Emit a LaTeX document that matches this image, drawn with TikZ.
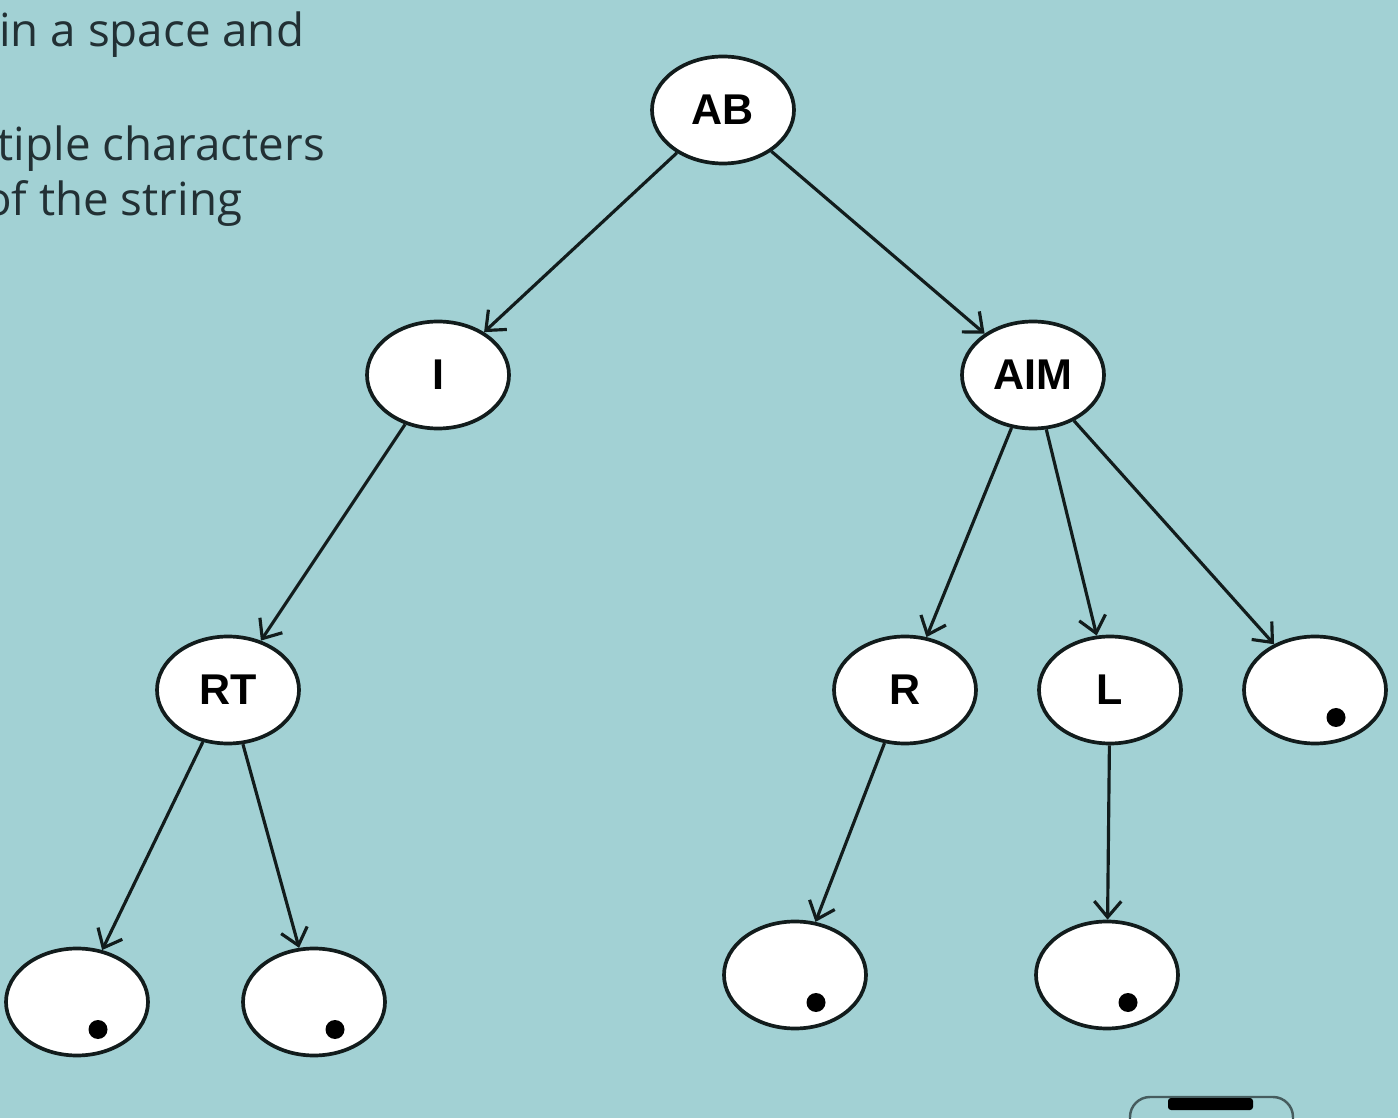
\documentclass[tikz,border=0pt]{standalone}
\usepackage{fontspec}
\usepackage{xcolor}
\usepackage{tikz}
\usetikzlibrary{shapes.geometric,arrows.meta}
\setsansfont{Liberation Sans}
\newfontfamily\notefont{Open Sans}
\definecolor{slidecyan}{RGB}{162, 209, 212}
\definecolor{notegray}{RGB}{34, 48, 52}
\definecolor{edgeblack}{RGB}{18, 28, 28}
\definecolor{framegray}{RGB}{70, 92, 94}

\begin{document}
\begin{tikzpicture}[
        trienode/.style={ellipse, draw=edgeblack, line width=2.1pt, fill=white, minimum width=2.84cm, minimum height=2.14cm, inner sep=0pt, font=\sffamily\bfseries\fontsize{24.5}{28}\selectfont},
        endnode/.style={trienode, path picture={\fill[black] (path picture bounding box.center) ++(0.42,-0.55) circle (0.19);}},
        link/.style={-{Straight Barb[length=3.2mm,width=5.4mm]}, line width=1.8pt, draw=edgeblack},
        note/.style={anchor=base west, inner sep=0pt, text=notegray, font=\notefont\fontsize{26}{30}\selectfont}
    ]
    \fill[slidecyan] (0,0) rectangle (27.96,22.36);
    \useasboundingbox (0,0) rectangle (27.96,22.36);

    % Slide text (cut at the left edge)
    \node[note] (line1) at (-0.02, 21.42) {in a space and};
    \node[note] (line2) at (-0.05, 19.14) {tiple characters};
    \node[note] (line3) at (-0.32, 18.04) {of the string};

    % Trie nodes
    \node[trienode] (ab) at (14.46, 20.16) {AB};
    \node[trienode] (i) at (8.76, 14.86) {I};
    \node[trienode] (aim) at (20.66, 14.86) {AIM};
    \node[trienode] (rt) at (4.56, 8.56) {RT};
    \node[trienode] (r) at (18.10, 8.56) {R};
    \node[trienode] (l) at (22.20, 8.56) {L};
    \node[endnode] (aimend) at (26.30, 8.56) {};
    \node[endnode] (rtend1) at (1.54, 2.32) {};
    \node[endnode] (rtend2) at (6.28, 2.32) {};
    \node[endnode] (rend) at (15.90, 2.86) {};
    \node[endnode] (lend) at (22.14, 2.86) {};

    % Links
    \draw[link] (ab) -- (i);
    \draw[link] (ab) -- (aim);
    \draw[link] (i) -- (rt);
    \draw[link] (aim) -- (r);
    \draw[link] (aim) -- (l);
    \draw[link] (aim) -- (aimend);
    \draw[link] (rt) -- (rtend1);
    \draw[link] (rt) -- (rtend2);
    \draw[link] (r) -- (rend);
    \draw[link] (l) -- (lend);

    % Corner of a device frame
    \draw[framegray, line width=1.4pt, rounded corners=0.4cm] (22.6,-0.6) -- (22.6,0.42) -- (25.86,0.42) -- (25.86,-0.6);
    \fill[black, rounded corners=0.06cm] (23.36,0.16) rectangle (25.06,0.4);

\end{tikzpicture}
\end{document}
